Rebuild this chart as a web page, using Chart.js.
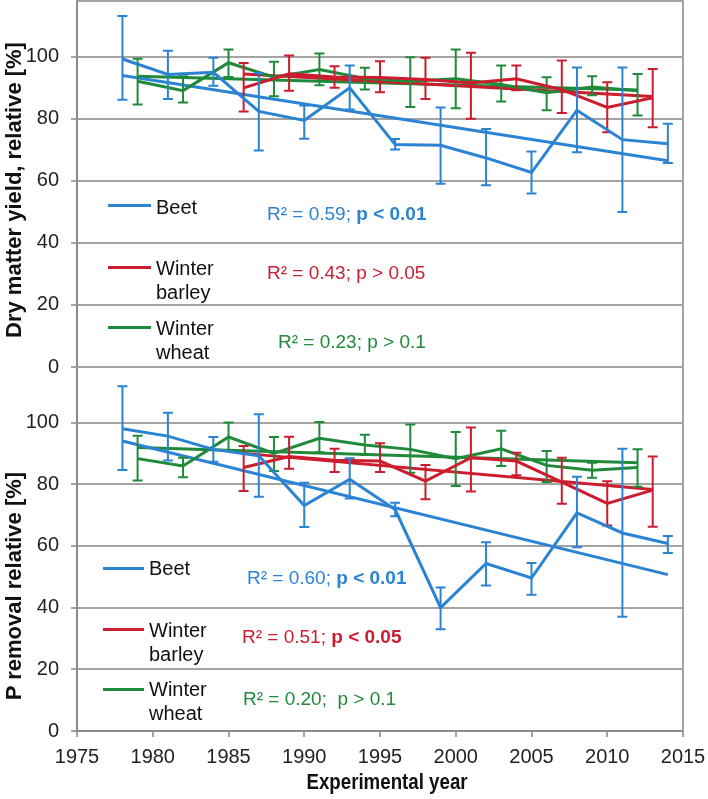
<!DOCTYPE html>
<html lang="en">
<head>
<meta charset="UTF-8" />
<title>Dry matter yield and P removal, relative</title>
<script src="https://cdn.jsdelivr.net/npm/chart.js"></script>
<style>
  body { margin: 0; background: #fff; }
  .wrap { position: relative; width: 708px; height: 799px; overflow: hidden;
          font-family: "Liberation Sans", Arial, sans-serif; }
  canvas { position: absolute; left: 0; }
  #dmChart { top: 0; }
  #pChart { top: 350px; }
  .ytitle { position: absolute; white-space: nowrap; color: #111;
            font: bold 22px "Liberation Sans Narrow", "Liberation Sans", Arial, sans-serif;
            transform: translate(-50%, -50%) rotate(-90deg); }
  .xtitle { position: absolute; white-space: nowrap; color: #111;
            font: bold 22px "Liberation Sans", Arial, sans-serif;
            transform: translate(-50%, -50%) scaleX(0.85); }
  .swatch { position: absolute; height: 3px; width: 43px; }
  .lbl { position: absolute; font-size: 20px; line-height: 24px; color: #111; }
  .r2 { position: absolute; font-size: 19px; line-height: 24px; white-space: nowrap; }
</style>
</head>
<body>

<div class="wrap">
  <canvas id="dmChart" width="708" height="380"></canvas>
  <canvas id="pChart" width="708" height="449"></canvas>

  <div class="ytitle" style="left:14px;top:190px">Dry matter yield, relative [%]</div>
  <div class="ytitle" style="left:14px;top:586px">P removal relative [%]</div>
  <div class="xtitle" style="left:387px;top:782px">Experimental year</div>

  <!-- top panel key -->
  <div class="swatch" style="left:108px;top:204px;background:#2b83d3"></div>
  <div class="lbl" style="left:156px;top:195px">Beet</div>
  <div class="r2" style="left:267px;top:202px;color:#2b83d3">R² = 0.59; <b>p &lt; 0.01</b></div>

  <div class="swatch" style="left:108px;top:266px;background:#cc1d2e"></div>
  <div class="lbl" style="left:156px;top:256px">Winter<br>barley</div>
  <div class="r2" style="left:267px;top:261px;color:#cc1d2e">R² = 0.43; p &gt; 0.05</div>

  <div class="swatch" style="left:108px;top:326px;background:#208a3a"></div>
  <div class="lbl" style="left:156px;top:316px">Winter<br>wheat</div>
  <div class="r2" style="left:278px;top:330px;color:#208a3a">R² = 0.23; p &gt; 0.1</div>

  <!-- bottom panel key -->
  <div class="swatch" style="left:103px;top:567px;width:41px;background:#2b83d3"></div>
  <div class="lbl" style="left:149px;top:556px">Beet</div>
  <div class="r2" style="left:247px;top:566px;color:#2b83d3">R² = 0.60; <b>p &lt; 0.01</b></div>

  <div class="swatch" style="left:103px;top:628px;width:41px;background:#cc1d2e"></div>
  <div class="lbl" style="left:149px;top:618px">Winter<br>barley</div>
  <div class="r2" style="left:242px;top:625px;color:#cc1d2e">R² = 0.51; <b>p &lt; 0.05</b></div>

  <div class="swatch" style="left:103px;top:688px;width:41px;background:#208a3a"></div>
  <div class="lbl" style="left:149px;top:677px">Winter<br>wheat</div>
  <div class="r2" style="left:243px;top:687px;color:#208a3a">R² = 0.20;&nbsp; p &gt; 0.1</div>
</div>

<script>
  // Years of each crop in the rotation
  const beetYears = [1978, 1981, 1984, 1987, 1990, 1993, 1996, 1999, 2002, 2005, 2008, 2011, 2014];
  const barleyYears = [1986, 1989, 1992, 1995, 1998, 2001, 2004, 2007, 2010, 2013];
  const wheatYears = [1979, 1982, 1985, 1988, 1991, 1994, 1997, 2000, 2003, 2006, 2009, 2012];

  // Dry matter yield, relative [%] (mean, upper and lower error bar)
  const dmBeet   = [99.3, 94.3, 95.0, 82.4, 79.5, 90.0, 71.7, 71.5, 67.4, 62.7, 82.8, 73.3, 72.0];
  const dmBeetHi = [113.2, 102.0, 99.7, 94.8, 84.3, 97.2, 73.5, 83.7, 76.7, 69.5, 96.6, 96.6, 78.4];
  const dmBeetLo = [86.2, 86.4, 90.7, 69.8, 73.6, 83.0, 70.1, 59.1, 58.6, 55.9, 69.2, 50.0, 65.8];

  const dmBarley   = [90.0, 94.5, 93.5, 93.3, 92.7, 91.6, 92.9, 89.4, 83.7, 86.8];
  const dmBarleyHi = [98.0, 100.4, 97.0, 98.6, 99.7, 101.3, 97.2, 98.8, 91.8, 96.1];
  const dmBarleyLo = [82.4, 89.1, 90.0, 88.6, 86.4, 80.0, 89.2, 81.9, 75.7, 77.3];

  const dmWheat   = [92.1, 89.1, 98.1, 93.4, 95.9, 93.0, 92.1, 92.9, 91.1, 88.4, 90.3, 89.1];
  const dmWheatHi = [99.4, 93.7, 102.4, 98.4, 101.1, 96.5, 99.9, 102.4, 97.2, 93.4, 93.7, 94.5];
  const dmWheatLo = [84.6, 85.3, 93.5, 87.3, 90.8, 89.5, 83.8, 83.4, 85.6, 82.8, 87.6, 81.1];

  // linear trend, start and end values
  const dmBeetTrend = [94.0, 66.5];
  const dmBarleyTrend = [94.5, 87.2];
  const dmWheatTrend = [93.7, 89.3];

  // P removal, relative [%]
  const pBeet   = [98.0, 95.6, 91.3, 89.2, 73.1, 81.6, 71.8, 40.0, 54.3, 49.6, 70.7, 64.2, 60.8];
  const pBeetHi = [111.8, 103.2, 95.3, 102.7, 80.5, 88.4, 74.0, 46.5, 61.2, 54.5, 82.4, 91.5, 63.2];
  const pBeetLo = [84.6, 87.7, 87.3, 75.9, 66.1, 75.4, 69.6, 33.0, 47.2, 44.2, 59.6, 37.0, 57.7];

  const pBarley   = [85.4, 89.0, 87.8, 87.5, 81.0, 88.6, 87.5, 80.7, 73.8, 78.1];
  const pBarleyHi = [92.4, 95.4, 91.5, 93.3, 86.2, 98.4, 90.2, 88.6, 81.0, 89.0];
  const pBarleyLo = [77.8, 85.0, 84.0, 84.0, 75.1, 77.6, 82.9, 73.7, 66.6, 66.2];

  const pWheat   = [88.3, 85.9, 95.3, 90.0, 94.9, 92.7, 91.3, 88.3, 91.5, 86.1, 84.5, 85.4];
  const pWheatHi = [95.7, 88.6, 100.0, 95.3, 100.2, 96.0, 99.4, 96.9, 97.3, 90.8, 87.0, 91.3];
  const pWheatLo = [81.2, 82.3, 90.8, 84.3, 90.4, 89.5, 83.7, 79.4, 85.9, 80.7, 82.1, 79.2];

  const pBeetTrend = [94.0, 50.7];
  const pBarleyTrend = [90.0, 78.3];
  const pWheatTrend = [91.9, 87.0];

  const BLUE = '#2b83d3';
  const RED = '#cc1d2e';
  const GREEN = '#208a3a';
  const GRID = '#a3a3a3';
  const AXIS = '#8c8c8c';
  const FONT = '"Liberation Sans", Arial, sans-serif';

  const pts = (years, vals) => years.map((yr, i) => ({ x: yr, y: vals[i] }));
  const ends = (years, vals) => [{ x: years[0], y: vals[0] }, { x: years[years.length - 1], y: vals[1] }];

  // vertical error bars with caps, drawn with each series
  const errorBars = {
    id: 'errorBars',
    afterDatasetDraw(chart, args) {
      const ds = chart.data.datasets[args.index];
      if (!ds.errHi) return;
      const { ctx, scales: { x, y } } = chart;
      ctx.save();
      ctx.strokeStyle = ds.borderColor;
      ctx.lineWidth = 2;
      ds.data.forEach((p, i) => {
        const px = x.getPixelForValue(p.x);
        const top = y.getPixelForValue(ds.errHi[i]);
        const bot = y.getPixelForValue(ds.errLo[i]);
        ctx.beginPath();
        ctx.moveTo(px, top); ctx.lineTo(px, bot);
        ctx.moveTo(px - 5, top); ctx.lineTo(px + 5, top);
        ctx.moveTo(px - 5, bot); ctx.lineTo(px + 5, bot);
        ctx.stroke();
      });
      ctx.restore();
    }
  };

  // top and right border of the plot area
  const frame = {
    id: 'frame',
    beforeDatasetsDraw(chart) {
      const { ctx, chartArea: a } = chart;
      ctx.save();
      ctx.strokeStyle = GRID;
      ctx.lineWidth = 2;
      ctx.beginPath();
      ctx.moveTo(a.left, a.top);
      ctx.lineTo(a.right, a.top);
      ctx.lineTo(a.right, a.bottom);
      ctx.stroke();
      ctx.restore();
    }
  };

  function buildChart(id, s, showX, padding) {
    return new Chart(document.getElementById(id), {
      type: 'line',
      data: {
        datasets: [
          { data: pts(beetYears, s.beet), errHi: s.beetHi, errLo: s.beetLo, borderColor: BLUE },
          { data: pts(barleyYears, s.barley), errHi: s.barleyHi, errLo: s.barleyLo, borderColor: RED },
          { data: pts(wheatYears, s.wheat), errHi: s.wheatHi, errLo: s.wheatLo, borderColor: GREEN },
          { data: ends(beetYears, s.beetTrend), borderColor: BLUE },
          { data: ends(barleyYears, s.barleyTrend), borderColor: RED },
          { data: ends(wheatYears, s.wheatTrend), borderColor: GREEN }
        ]
      },
      options: {
        responsive: false,
        animation: false,
        layout: { padding: padding },
        elements: { point: { radius: 0 }, line: { borderWidth: 3, tension: 0 } },
        plugins: { legend: { display: false }, tooltip: { enabled: false } },
        scales: {
          x: {
            type: 'linear', min: 1975, max: 2015, display: showX,
            ticks: { stepSize: 5, padding: 8, color: '#222', font: { family: FONT, size: 20 },
                     callback: v => String(v) },
            grid: { drawOnChartArea: false, color: GRID, lineWidth: 2, tickLength: 6 },
            border: { color: AXIS, width: 2 },
            afterFit(a) {
              if (showX) a.height = 68;
              a.paddingLeft = 0; a.paddingRight = 0;
            }
          },
          y: {
            min: 0, max: 118,
            afterBuildTicks(a) { a.ticks = a.ticks.filter(t => t.value % 20 === 0); },
            ticks: { stepSize: 20, padding: 12, color: '#222', font: { family: FONT, size: 20 } },
            grid: { color: GRID, lineWidth: 2, tickLength: 6 },
            border: { color: AXIS, width: 2 },
            afterFit(a) { a.width = 77; a.paddingTop = 0; a.paddingBottom = 0; }
          }
        }
      },
      plugins: [frame, errorBars]
    });
  }

  buildChart('dmChart', {
    beet: dmBeet, beetHi: dmBeetHi, beetLo: dmBeetLo, beetTrend: dmBeetTrend,
    barley: dmBarley, barleyHi: dmBarleyHi, barleyLo: dmBarleyLo, barleyTrend: dmBarleyTrend,
    wheat: dmWheat, wheatHi: dmWheatHi, wheatLo: dmWheatLo, wheatTrend: dmWheatTrend
  }, false, { top: 1, right: 25, bottom: 13, left: 0 });

  buildChart('pChart', {
    beet: pBeet, beetHi: pBeetHi, beetLo: pBeetLo, beetTrend: pBeetTrend,
    barley: pBarley, barleyHi: pBarleyHi, barleyLo: pBarleyLo, barleyTrend: pBarleyTrend,
    wheat: pWheat, wheatHi: pWheatHi, wheatLo: pWheatLo, wheatTrend: pWheatTrend
  }, true, { top: 17, right: 25, bottom: 0, left: 0 });
</script>

</body>
</html>
